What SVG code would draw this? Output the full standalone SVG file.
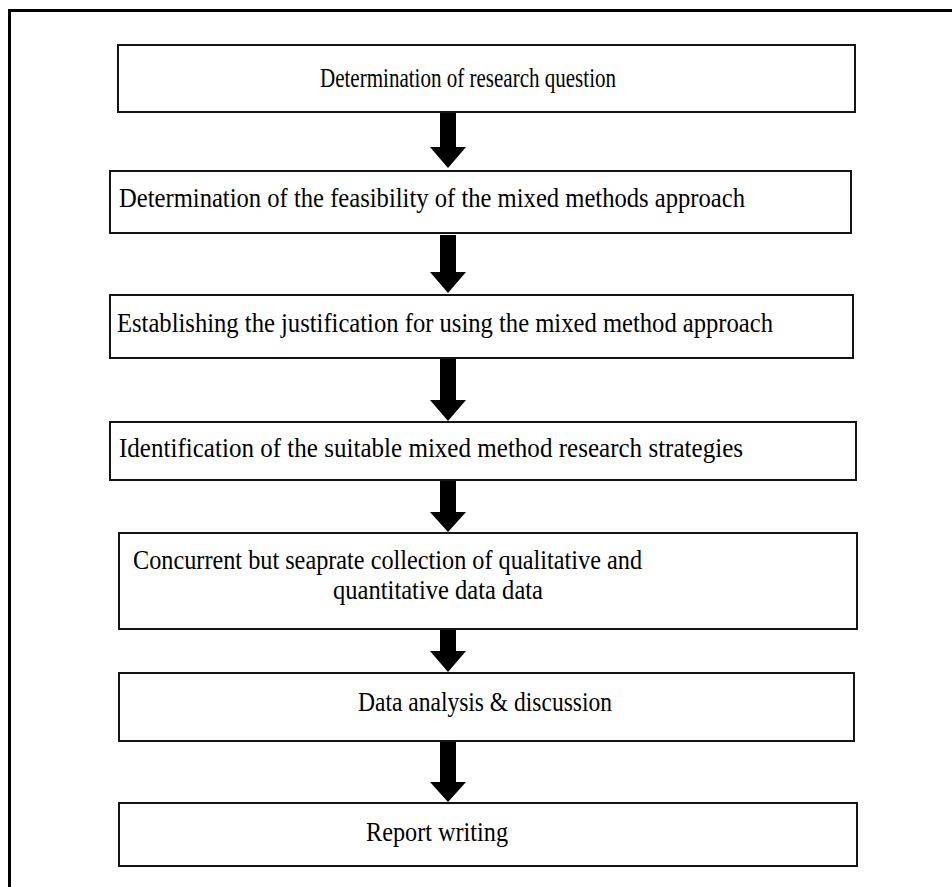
<svg xmlns="http://www.w3.org/2000/svg" width="952" height="887" viewBox="0 0 952 887">
  <style>
    .box { fill: #ffffff; stroke: #151515; stroke-width: 2; }
    .lbl { font-family: "Liberation Serif", "Times New Roman", serif; font-size: 28px; fill: #000000; }
    .arrow { fill: #000000; }
  </style>
  <rect x="0" y="0" width="952" height="887" fill="#ffffff"/>
  <!-- outer frame -->
  <path d="M9.5,887 V10.5 H952" fill="none" stroke="#000000" stroke-width="3"/>

  <g id="step1">
    <rect class="box" x="118" y="45" width="737" height="67"/>
    <text class="lbl" x="320" y="87" textLength="296" lengthAdjust="spacingAndGlyphs">Determination of research question</text>
  </g>
  <g id="step2">
    <rect class="box" x="110" y="171" width="741" height="62"/>
    <text class="lbl" x="119" y="207" textLength="626" lengthAdjust="spacingAndGlyphs">Determination of the feasibility  of the mixed methods approach</text>
  </g>
  <g id="step3">
    <rect class="box" x="110" y="295" width="743" height="63"/>
    <text class="lbl" x="117" y="332" textLength="656" lengthAdjust="spacingAndGlyphs">Establishing  the justification  for using the mixed  method approach</text>
  </g>
  <g id="step4">
    <rect class="box" x="110" y="422" width="746" height="58"/>
    <text class="lbl" x="119" y="457" textLength="624" lengthAdjust="spacingAndGlyphs">Identification  of  the suitable mixed method research strategies</text>
  </g>
  <g id="step5">
    <rect class="box" x="119" y="533" width="738" height="96"/>
    <text class="lbl" x="133" y="569" textLength="509" lengthAdjust="spacingAndGlyphs">Concurrent but seaprate collection of qualitative  and</text>
    <text class="lbl" x="333" y="599" textLength="210" lengthAdjust="spacingAndGlyphs">quantitative  data data</text>
  </g>
  <g id="step6">
    <rect class="box" x="119" y="673" width="735" height="68"/>
    <text class="lbl" x="358" y="711" textLength="254" lengthAdjust="spacingAndGlyphs">Data analysis &amp; discussion</text>
  </g>
  <g id="step7">
    <rect class="box" x="119" y="803" width="738" height="63"/>
    <text class="lbl" x="366" y="841" textLength="142" lengthAdjust="spacingAndGlyphs">Report writing</text>
  </g>

  <!-- block arrows between steps -->
  <g id="connectors">
    <path class="arrow" d="M440,113 H456 V147 H466 L448,168 L430,147 H440 Z"/>
    <path class="arrow" d="M440,235 H456 V272 H466 L448,293 L430,272 H440 Z"/>
    <path class="arrow" d="M440,359 H456 V400 H466 L448,421 L430,400 H440 Z"/>
    <path class="arrow" d="M440,481 H456 V512 H466 L448,532 L430,512 H440 Z"/>
    <path class="arrow" d="M440,630 H456 V651 H466 L448,672 L430,651 H440 Z"/>
    <path class="arrow" d="M440,742 H456 V782 H466 L448,802 L430,782 H440 Z"/>
  </g>
</svg>
